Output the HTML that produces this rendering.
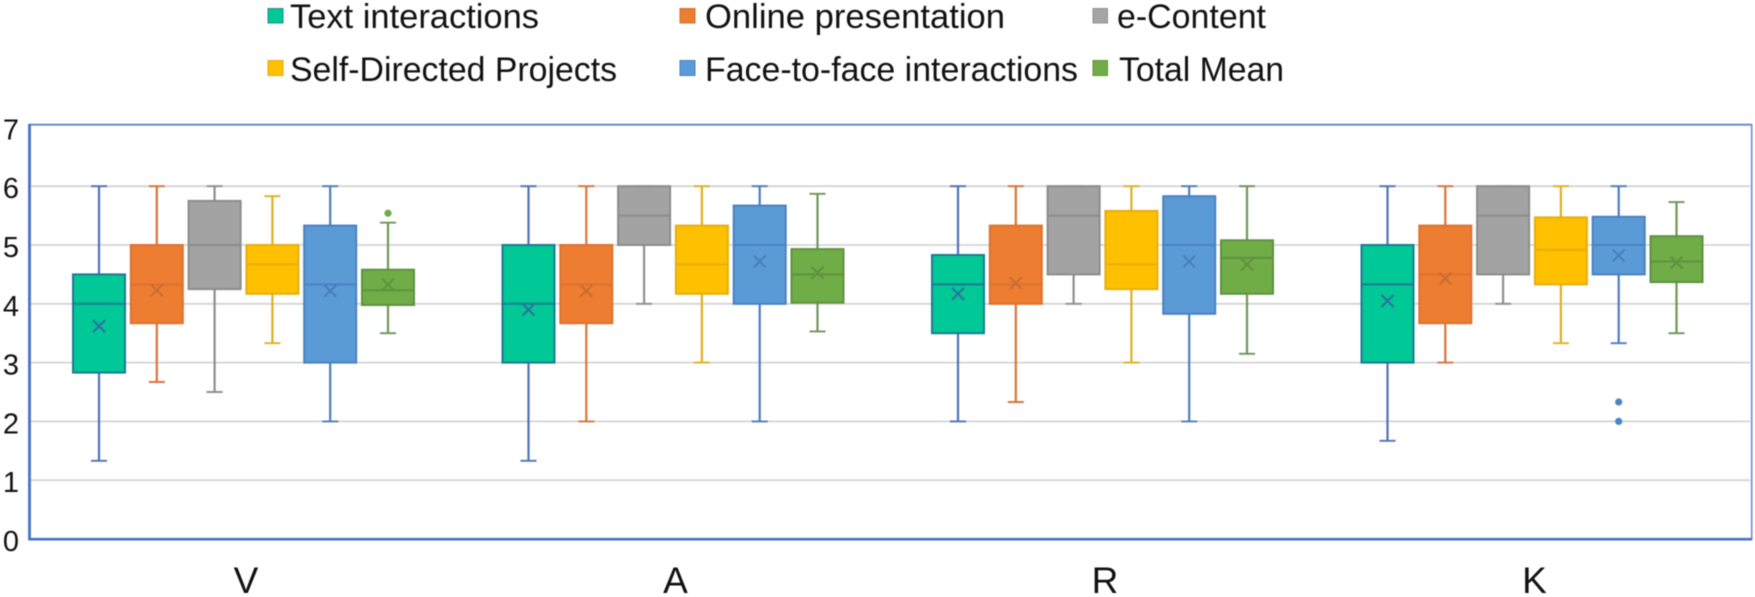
<!DOCTYPE html>
<html lang="en">
<head>
<meta charset="utf-8">
<title>Box plot of VARK scores by learning activity</title>
<style>
html,body{margin:0;padding:0;background:#fff;width:1755px;height:597px;overflow:hidden}
svg{display:block;font-family:"Liberation Sans",sans-serif;fill:#111;filter:blur(0.5px)}
</style>
</head>
<body>
<svg id="chart" xmlns="http://www.w3.org/2000/svg" width="1755" height="597" viewBox="0 0 1755 597">
  <g id="legend" font-size="34">
    <rect x="268" y="8.5" width="15" height="14.5" fill="#00c896" stroke="#2a8a8c"/>
    <text x="290" y="28" textLength="249" lengthAdjust="spacingAndGlyphs">Text interactions</text>
    <rect x="680" y="8.5" width="15" height="14.5" fill="#ed7d31" stroke="#d0702f"/>
    <text x="705" y="28" textLength="300" lengthAdjust="spacingAndGlyphs">Online presentation</text>
    <rect x="1093" y="8.5" width="14.5" height="14.5" fill="#a5a5a5" stroke="#929292"/>
    <text x="1117" y="28" textLength="149" lengthAdjust="spacingAndGlyphs">e-Content</text>
    <rect x="268" y="60.5" width="15" height="15" fill="#ffc000" stroke="#e0ab10"/>
    <text x="290" y="81" textLength="327" lengthAdjust="spacingAndGlyphs">Self-Directed Projects</text>
    <rect x="680" y="60.5" width="15" height="15" fill="#5b9bd5" stroke="#4a7fc0"/>
    <text x="705" y="81" textLength="373" lengthAdjust="spacingAndGlyphs">Face-to-face interactions</text>
    <rect x="1093" y="60.5" width="14.5" height="15" fill="#70ad47" stroke="#5f9140"/>
    <text x="1119" y="81" textLength="165" lengthAdjust="spacingAndGlyphs">Total Mean</text>
  </g>
  <g id="grid"></g>
  <g id="plot"></g>
  <g id="frame">
    <line x1="29" y1="124.7" x2="1752" y2="124.7" stroke="#5f82d2" stroke-width="1.8"/>
    <line x1="1751.7" y1="124" x2="1751.7" y2="540" stroke="#6f8ad8" stroke-width="1.6"/>
    <line x1="29.5" y1="124" x2="29.5" y2="540" stroke="#4472c4" stroke-width="2.8"/>
    <line x1="28.5" y1="539.2" x2="1752" y2="539.2" stroke="#4472c4" stroke-width="2.6"/>
  </g>
  <g id="yticks" font-size="29" text-anchor="middle"></g>
  <g id="xticks" font-size="37" text-anchor="middle"></g>
</svg>
<script>
const categories = ['V', 'A', 'R', 'K'];
const yTicks = [0, 1, 2, 3, 4, 5, 6, 7];

// Each row: [min, q1, median, q3, max] for V, A, R, K
const textInteractions = [[1.33, 2.83, 4, 4.5, 6], [1.33, 3, 4, 5, 6], [2, 3.5, 4.33, 4.83, 6], [1.67, 3, 4.33, 5, 6]];
const onlinePresentation = [[2.67, 3.67, 4.33, 5, 6], [2, 3.67, 4.33, 5, 6], [2.33, 4, 4.33, 5.33, 6], [3, 3.67, 4.5, 5.33, 6]];
const eContent = [[2.5, 4.25, 5, 5.75, 6], [4, 5, 5.5, 6, 6], [4, 4.5, 5.5, 6, 6], [4, 4.5, 5.5, 6, 6]];
const selfDirected = [[3.33, 4.17, 4.67, 5, 5.83], [3, 4.17, 4.67, 5.33, 6], [3, 4.25, 4.67, 5.58, 6], [3.33, 4.33, 4.92, 5.47, 6]];
const faceToFace = [[2, 3, 4.33, 5.33, 6], [2, 4, 5, 5.67, 6], [2, 3.83, 5, 5.83, 6], [3.33, 4.5, 5, 5.48, 6]];
const totalMean = [[3.5, 3.98, 4.23, 4.58, 5.38], [3.53, 4.02, 4.5, 4.93, 5.87], [3.15, 4.17, 4.78, 5.08, 6], [3.5, 4.37, 4.72, 5.15, 5.73]];

// Mean markers (null where no marker is visible)
const textMeans = [3.62, 3.9, 4.17, 4.05];
const onlineMeans = [4.23, 4.22, 4.35, 4.43];
const eContentMeans = [null, null, null, null];
const selfMeans = [null, null, null, null];
const faceMeans = [4.22, 4.72, 4.72, 4.82];
const totalMeans = [4.33, 4.53, 4.67, 4.7];

// Outlier points per category
const textOutliers = [[], [], [], []];
const onlineOutliers = [[], [], [], []];
const eContentOutliers = [[], [], [], []];
const selfOutliers = [[], [], [], []];
const faceOutliers = [[], [], [], [2.33, 2]];
const totalOutliers = [[5.54], [], [], []];

const seriesStats = [textInteractions, onlinePresentation, eContent, selfDirected, faceToFace, totalMean];
const seriesMeans = [textMeans, onlineMeans, eContentMeans, selfMeans, faceMeans, totalMeans];
const seriesOutliers = [textOutliers, onlineOutliers, eContentOutliers, selfOutliers, faceOutliers, totalOutliers];
const seriesKeys = ['text-interactions', 'online-presentation', 'e-content', 'self-directed-projects', 'face-to-face-interactions', 'total-mean'];

const fills = ['#00c896', '#ed7d31', '#a3a3a3', '#ffc000', '#5b9bd5', '#70ad47'];
const strokes = ['#1b7a94', '#dd7230', '#8c8c8c', '#e6ae10', '#4a80c4', '#5f9140'];
const whiskerColors = ['#4f72b8', '#d9733a', '#8f8f8f', '#e0b020', '#4f7cc0', '#6f9558'];
const meanColors = ['#2f6f9e', '#c96c30', '#8c8c8c', '#e0a810', '#4a7cbc', '#5f9140'];

const NS = 'http://www.w3.org/2000/svg';
const BOX_W = 52;
const CAP_W = 16;

function yScale(v) { return 539 - 58.8 * v; }
function catCenter(c) { return 243.5 + 429.5 * c; }
function xScale(c, s) { return catCenter(c) + (s - 2.5) * 57.8; }

function mk(parent, tag, attrs) {
  const el = document.createElementNS(NS, tag);
  for (const k in attrs) el.setAttribute(k, attrs[k]);
  parent.appendChild(el);
  return el;
}

const grid = document.getElementById('grid');
const plot = document.getElementById('plot');
const yticksG = document.getElementById('yticks');
const xticksG = document.getElementById('xticks');

yTicks.forEach(function (t) {
  if (t > 0 && t < 7) {
    const g = mk(grid, 'line', { x1: 31, x2: 1750, y1: yScale(t), y2: yScale(t), stroke: '#d4d4d4', 'stroke-width': 1.8 });
    
    
  }
  const lab = mk(yticksG, 'text', { x: 11, y: yScale(t) + 12 });
  lab.textContent = t;
  
  
});

categories.forEach(function (name, c) {
  const lab = mk(xticksG, 'text', { x: catCenter(c) + 2.5, y: 593 });
  lab.textContent = name;
  
  
});

seriesStats.forEach(function (rows, s) {
  rows.forEach(function (st, c) {
    const x = xScale(c, s);
    const id = seriesKeys[s] + '-' + categories[c];
    const g = mk(plot, 'g', {});
    
    

    const whisker = mk(g, 'line', { x1: x, x2: x, y1: yScale(st[0]), y2: yScale(st[4]), stroke: whiskerColors[s], 'stroke-width': 2.2 });
    
    

    const capLow = mk(g, 'line', { x1: x - CAP_W / 2, x2: x + CAP_W / 2, y1: yScale(st[0]), y2: yScale(st[0]), stroke: whiskerColors[s], 'stroke-width': 1.9 });
    
    

    const capHigh = mk(g, 'line', { x1: x - CAP_W / 2, x2: x + CAP_W / 2, y1: yScale(st[4]), y2: yScale(st[4]), stroke: whiskerColors[s], 'stroke-width': 1.9 });
    
    

    const box = mk(g, 'rect', { x: x - BOX_W / 2, y: yScale(st[3]), width: BOX_W, height: yScale(st[1]) - yScale(st[3]), fill: fills[s], stroke: strokes[s], 'stroke-width': 2 });
    
    

    const med = mk(g, 'line', { x1: x - BOX_W / 2, x2: x + BOX_W / 2, y1: yScale(st[2]), y2: yScale(st[2]), stroke: strokes[s], 'stroke-width': 2 });
    
    

    const m = seriesMeans[s][c];
    if (m !== null) {
      const my = yScale(m);
      const d = 6;
      const mean = mk(g, 'path', { d: 'M' + (x - d) + ' ' + (my - d) + 'L' + (x + d) + ' ' + (my + d) + 'M' + (x - d) + ' ' + (my + d) + 'L' + (x + d) + ' ' + (my - d), stroke: meanColors[s], 'stroke-width': 2, fill: 'none' });
      
      
    }

    seriesOutliers[s][c].forEach(function (v) {
      const pt = mk(g, 'circle', { cx: x, cy: yScale(v), r: 3.6, fill: s === 4 ? '#4a86c4' : fills[s] });
      
      
    });
  });
});
</script>
</body>
</html>
